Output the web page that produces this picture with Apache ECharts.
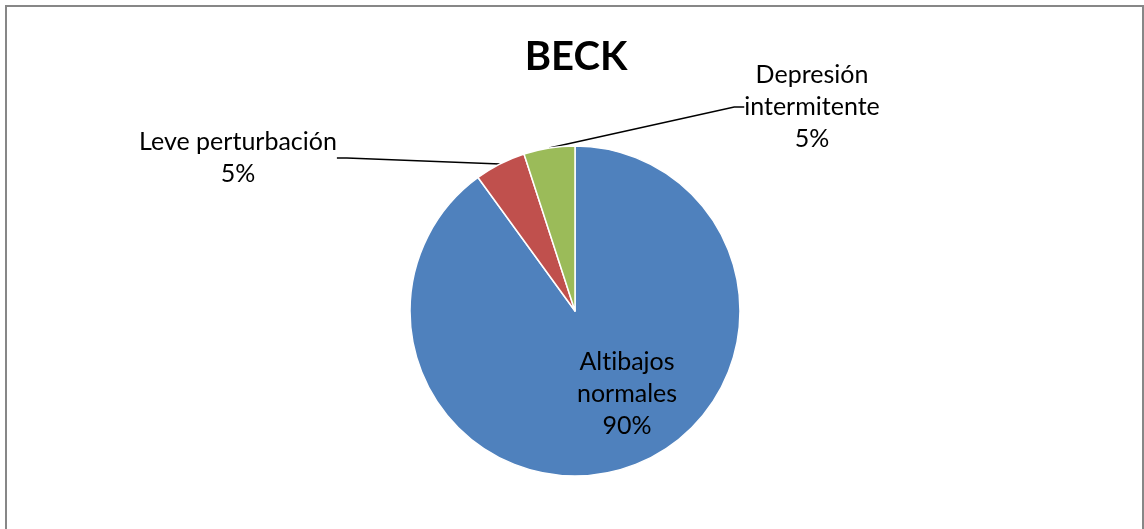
<!DOCTYPE html>
<html>
<head>
<meta charset="utf-8">
<script src="https://cdn.jsdelivr.net/npm/echarts@6/dist/echarts.min.js"></script>
<style>
html,body{margin:0;padding:0;background:#fff;}
#chart{width:1144px;height:529px;}
</style>
</head>
<body>
<div id="chart"></div>
<script>
const titleText = 'BECK';
const categories = ['Altibajos normales', 'Leve perturbación', 'Depresión intermitente'];
const labelTexts = ['Alt\u200Cibajos\nnormales', 'Leve perturbación', 'Depresión\nintermitente'];
const values = [90, 5, 5];
const colors = ['#4F81BD', '#C0504D', '#9BBB59'];

const labelPos = [
  {x: 627, y: 394},
  {x: 238, y: 158},
  {x: 812, y: 107}
];

const chart = echarts.init(document.getElementById('chart'));
const FONT = 'Lato';

const data = categories.map((c, i) => ({
  name: c,
  value: values[i],
  itemStyle: {color: colors[i]},
  label: i === 0 ? {position: 'inside'} : {position: 'outside'},
  labelLine: {show: i !== 0}
}));

chart.setOption({
  animation: false,
  backgroundColor: '#fff',
  title: {
    text: titleText,
    left: 571,
    top: 32,
    textAlign: 'center',
    textStyle: {fontFamily: FONT, fontWeight: 'bold', fontSize: 40, color: '#000'}
  },
  graphic: [{
    type: 'rect',
    shape: {x: 6, y: 6, width: 1137, height: 560},
    style: {fill: 'none', stroke: '#878787', lineWidth: 2},
    silent: true
  }],
  series: [{
    type: 'pie',
    center: [575, 311],
    radius: [0, 165],
    startAngle: 90,
    clockwise: true,
    data: data,
    itemStyle: {borderColor: '#fff', borderWidth: 1.5},
    label: {
      fontFamily: FONT,
      fontSize: 25,
      color: '#000',
      lineHeight: 32,
      align: 'center',
      formatter: p => labelTexts[p.dataIndex] + '\n' + p.percent.toFixed(0) + '%'
    },
    labelLine: {
      lineStyle: {color: '#000', width: 1.5},
      length: 10,
      length2: 10
    },
    labelLayout: function (p) {
      const pos = labelPos[p.dataIndex];
      return {x: pos.x, y: pos.y, align: 'center', verticalAlign: 'middle'};
    },
    emphasis: {disabled: true}
  }]
});
</script>
</body>
</html>
